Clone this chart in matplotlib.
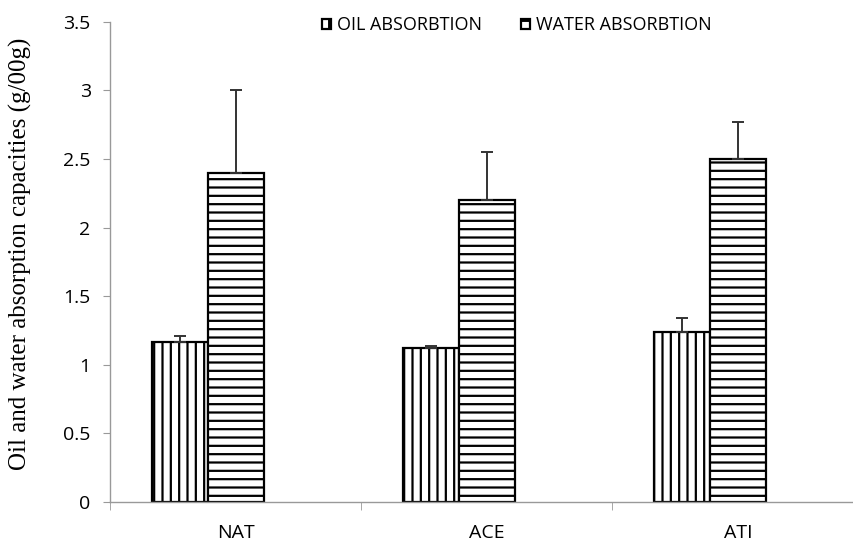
import matplotlib
matplotlib.use("Agg")
import matplotlib.pyplot as plt
import numpy as np

categories = ["NAT", "ACE", "ATI"]
oil = [1.17, 1.12, 1.24]
oil_err = [0.04, 0.02, 0.10]
water = [2.40, 2.20, 2.50]
water_err = [0.60, 0.35, 0.27]
yticks = [0, 0.5, 1, 1.5, 2, 2.5, 3, 3.5]
ytick_labels = ["0", "0.5", "1", "1.5", "2", "2.5", "3", "3.5"]

plt.rcParams['hatch.linewidth'] = 1.6
plt.rcParams['font.family'] = ['Open Sans', 'DejaVu Sans']

fig = plt.figure(figsize=(8.54, 5.44), dpi=100)
ax = fig.add_axes([0.129, 0.077, 0.882, 0.883])

x = np.arange(len(categories))
w = 0.223
ax.bar(x - 1.5 * w, oil, w, align='edge', color='white', edgecolor='black', hatch='||',
       linewidth=1.6, label='OIL ABSORBTION')
ax.bar(x - 0.5 * w, water, w, align='edge', color='white', edgecolor='black', hatch='--',
       linewidth=1.6, label='WATER ABSORBTION')
ax.errorbar(x - w, oil, yerr=[np.zeros(3), oil_err], fmt='none',
            ecolor='#333333', elinewidth=1.4, capsize=4.5, capthick=1.4)
ax.errorbar(x, water, yerr=[np.zeros(3), water_err], fmt='none',
            ecolor='#333333', elinewidth=1.4, capsize=4.5, capthick=1.4)

ax.set_xlim(-0.5, 2.5)
ax.set_ylim(0, 3.5)
ax.set_yticks(yticks)
ax.set_yticklabels(ytick_labels, fontsize=14)
ax.set_xticks(x)
ax.set_xticklabels(categories, fontsize=14)
ax.tick_params(axis='x', which='major', length=0, pad=16)
ax.set_xticks([-0.5, 0.5, 1.5], minor=True)
ax.tick_params(axis='x', which='minor', length=6, color='#999999', direction='out')
ax.tick_params(axis='y', length=5, color='#999999', direction='out', pad=9)

for s in ['top', 'right']:
    ax.spines[s].set_visible(False)
for s in ['left', 'bottom']:
    ax.spines[s].set_color('#999999')
    ax.spines[s].set_linewidth(1)

ax.set_ylabel('Oil and water absorption capacities (g/00g)',
              family='Liberation Serif', fontsize=18)
ax.yaxis.set_label_coords(-0.104, 0.517)

leg = ax.legend(loc='upper center', bbox_to_anchor=(0.54, 1.045), ncol=2,
                frameon=False, fontsize=13, handlelength=0.5, handleheight=0.5,
                handletextpad=0.3, columnspacing=2.2)

fig.savefig('out.png', dpi=100)
